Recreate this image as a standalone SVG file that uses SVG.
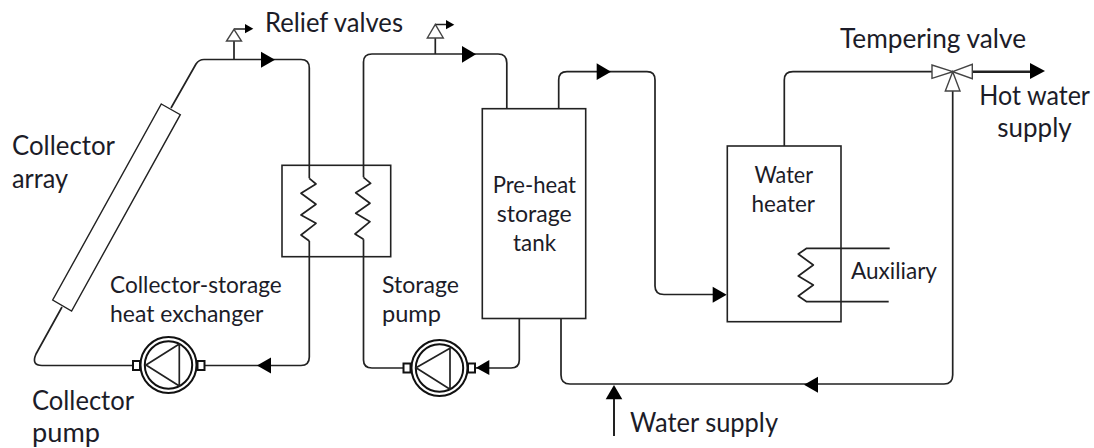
<svg xmlns="http://www.w3.org/2000/svg" width="1094" height="448" viewBox="0 0 1094 448">
<style>
text{font-family:"Lato","Noto Sans","Liberation Sans",sans-serif;font-size:26px;fill:#1c1c28}
.s{font-size:23.500px}
.l{fill:none;stroke:#222;stroke-width:1.7;stroke-linejoin:round}
.w{fill:#fff;stroke:#444;stroke-width:1.4;stroke-linejoin:miter}
.a{fill:#000;stroke:none}
.k{fill:#fff;stroke:#111;stroke-width:2}
</style>
<rect width="1094" height="448" fill="#fff"/>
<g id="connectors">
<path class="l" d="M171 108L196 64Q199 59.500 204 59.500H301Q309.300 59.500 309.300 68V178.300M309.300 241V357Q309.300 365.500 301 365.500H204.700"/>
<path class="l" d="M132.700 365.500H42Q31 365.500 36 354L62 307"/>
<path class="l" d="M403.300 368H372Q363.500 368 363.500 360V239.300M363.500 177.300V62Q363.500 54 372 54H498Q506.800 54 506.800 63V109"/>
<path class="l" d="M476 368H511Q519.300 368 519.300 360V318.500"/>
<path class="l" d="M558.700 109V80Q558.700 71.700 567 71.700H647Q655 71.700 655 80V286Q655 294.500 664 294.500H713"/>
<path class="l" d="M561 318.500V375Q561 384 570 384H944Q952.700 384 952.700 375V91"/>
<path class="l" d="M784.300 146V80Q784.300 71.700 793 71.700H932"/>
<path class="l" d="M972.300 71.700H1031" style="stroke-width:2.6"/>
<path class="l" d="M614 436V398" style="stroke-width:2"/>
<path class="l" d="M234 59.500V41M234 29H245"/>
<path class="l" d="M435.300 54V38M435.300 24.500H446"/>
<path class="a" d="M261 51.700L275 59.700L261 67.700Z"/>
<path class="a" d="M462 46L476 54.300L462 62.700Z"/>
<path class="a" d="M596.700 63.300L611 71.700L596.700 80Z"/>
<path class="a" d="M712.700 286.700L726.700 294.700L712.700 302.700Z"/>
<path class="a" d="M818 376.700L804 384.700L818 392.700Z"/>
<path class="a" d="M271 357.500L257 365.500L271 373.500Z"/>
<path class="a" d="M489.300 360L476 367.700L489.300 375Z"/>
<path class="a" d="M1030 63L1045 71L1030 79Z"/>
<path class="a" d="M605.700 399.300L614 385L622.300 399.300Z"/>
<path class="a" d="M245 24L253.300 28.700L245 33.300Z"/>
<path class="a" d="M446 20L454.300 24.700L446 29.300Z"/>
</g>
<g id="collector-array"><path class="w" style="stroke:#222" d="M161.300 104L180.300 114.700L71.600 311L52.700 300Z"/></g>
<g id="relief-valve-1"><path class="w" d="M234 29.300L241.500 41H226.500Z"/></g>
<g id="relief-valve-2"><path class="w" d="M435.300 24.300L443.300 38H427.300Z"/></g>
<g id="heat-exchanger">
<rect x="282" y="165.300" width="108.700" height="91.400" fill="none" stroke="#222" stroke-width="1.6"/>
<path class="l" d="M309.300 178.300L316 184L301 193.300L316 204.300L301 215L316 223.300L301 235L309.300 241"/>
<path class="l" d="M363.500 177.300L370.700 183.300L355.700 192.700L370 203.300L355.700 213.300L370 221.700L355 234L363.500 239.300"/>
</g>
<g id="collector-pump">
<circle class="k" cx="168.500" cy="365" r="28"/><circle class="k" cx="168.500" cy="365" r="23.700"/>
<path class="l" d="M146 365L179.300 344V386Z"/>
<rect class="k" x="133" y="361" width="7" height="9"/><rect class="k" x="197.500" y="361" width="7" height="9"/>
</g>
<g id="storage-pump">
<circle class="k" cx="439.500" cy="368" r="28"/><circle class="k" cx="439.500" cy="368" r="23.700"/>
<path class="l" d="M416 367.700L450 348.300V389.300Z"/>
<rect class="k" x="403.500" y="363.500" width="7" height="9"/><rect class="k" x="468" y="363.500" width="7" height="9"/>
</g>
<g id="preheat-tank"><rect x="482.300" y="108.700" width="103.400" height="209.800" fill="none" stroke="#222" stroke-width="1.6"/>
<text class="s" x="492.700" y="192.700" textLength="83.300" lengthAdjust="spacingAndGlyphs">Pre-heat</text>
<text class="s" x="496.700" y="221.700" textLength="75" lengthAdjust="spacingAndGlyphs">storage</text>
<text class="s" x="513" y="250.700" textLength="43" lengthAdjust="spacingAndGlyphs">tank</text></g>
<g id="water-heater"><rect x="727.300" y="146" width="113.700" height="175.700" fill="none" stroke="#222" stroke-width="1.6"/>
<path class="l" d="M889.700 248.300H806.700L798.300 254L813.300 265L798.300 276L813.300 285L798.300 296L806.700 301.700H888.700"/>
<text class="s" x="754.500" y="182.700" textLength="58.500" lengthAdjust="spacingAndGlyphs">Water</text>
<text class="s" x="751.500" y="211.700" textLength="63.500" lengthAdjust="spacingAndGlyphs">heater</text></g>
<g id="tempering-valve">
<path class="w" d="M952.700 71.700L932 65V78.300Z"/><path class="w" d="M952.700 71.700L972.300 64.300V78.700Z"/><path class="w" d="M952.700 71.700L960 91H945.300Z"/>
</g>
<g id="labels">
<text x="265" y="32" textLength="138" lengthAdjust="spacingAndGlyphs">Relief valves</text>
<text x="840" y="47.700" textLength="186" lengthAdjust="spacingAndGlyphs">Tempering valve</text>
<text x="979.300" y="105" textLength="110.700" lengthAdjust="spacingAndGlyphs">Hot water</text>
<text x="997.300" y="137" textLength="74.400" lengthAdjust="spacingAndGlyphs">supply</text>
<text x="12" y="155" textLength="103" lengthAdjust="spacingAndGlyphs">Collector</text>
<text x="12" y="187.700" textLength="56" lengthAdjust="spacingAndGlyphs">array</text>
<text class="s" x="110" y="293" textLength="171.700" lengthAdjust="spacingAndGlyphs">Collector-storage</text>
<text class="s" x="110" y="322" textLength="153.400" lengthAdjust="spacingAndGlyphs">heat exchanger</text>
<text class="s" x="382" y="293" textLength="77" lengthAdjust="spacingAndGlyphs">Storage</text>
<text class="s" x="382" y="322" textLength="59" lengthAdjust="spacingAndGlyphs">pump</text>
<text x="32" y="410" textLength="102" lengthAdjust="spacingAndGlyphs">Collector</text>
<text x="32" y="441.700" textLength="68" lengthAdjust="spacingAndGlyphs">pump</text>
<text class="s" x="851" y="279" textLength="86" lengthAdjust="spacingAndGlyphs">Auxiliary</text>
<text x="630" y="432.300" textLength="148" lengthAdjust="spacingAndGlyphs">Water supply</text>
</g>
</svg>
